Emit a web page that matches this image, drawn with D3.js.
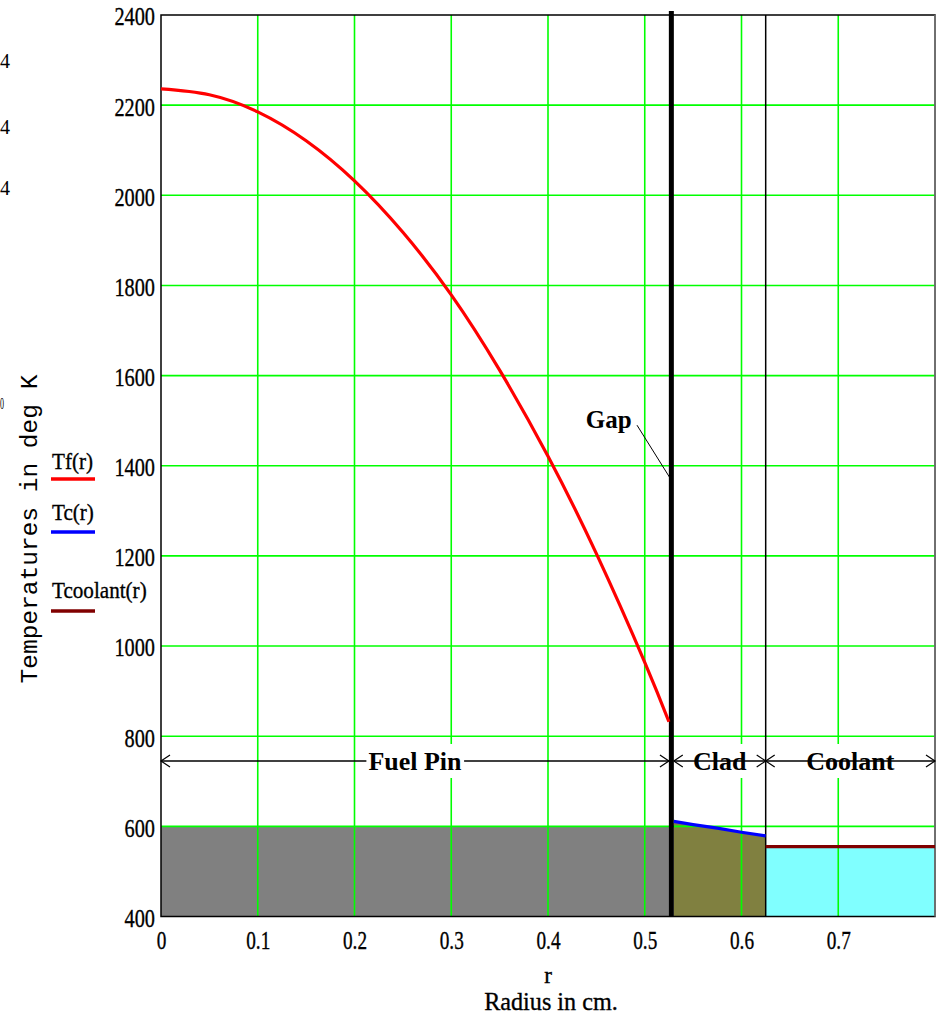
<!DOCTYPE html>
<html>
<head>
<meta charset="utf-8">
<script src="https://cdn.jsdelivr.net/npm/d3@7"></script>
<style>
  html, body { margin: 0; padding: 0; background: #fff; }
  svg { display: block; }
  text { fill: #000; }
  text.heavy { stroke: #000; stroke-width: 0.35px; }
</style>
</head>
<body>
<svg id="chart" width="941" height="1017"></svg>
<script>
// Radial temperature profile across a fuel pin, gap, cladding and coolant.

// Fuel pellet temperature Tf(r)
const fuelR = [0, 0.05, 0.1, 0.15, 0.2, 0.25, 0.3, 0.35, 0.4, 0.45, 0.5, 0.525];
const fuelT = [2236, 2223, 2185, 2121, 2032, 1918, 1779, 1612, 1421, 1205, 964, 832];

// Cladding temperature Tc(r)
const cladR = [0.53, 0.55, 0.575, 0.6, 0.625];
const cladT = [611, 604, 596, 587, 579];

// Coolant temperature Tcoolant(r)
const coolR = [0.625, 0.8];
const coolT = [555, 555];

// Region boundaries (cm) and shaded fuel band top (K)
const fuelRadius = 0.525;
const gapCentre = 0.5275;
const cladInner = 0.53;
const cladOuter = 0.625;
const rMax = 0.8;
const fuelBandTop = 600;

// Axis ticks
const xTicks = [0, 0.1, 0.2, 0.3, 0.4, 0.5, 0.6, 0.7];
const yTicks = [400, 600, 800, 1000, 1200, 1400, 1600, 1800, 2000, 2200, 2400];

// Annotations
const dimLevel = 745;
const regionLabels = ["Fuel Pin", "Clad", "Coolant"];
const gapLabel = { text: "Gap", r: 0.439, T: 1484, fromR: 0.492, fromT: 1490, toR: 0.5255, toT: 1375 };

// Legend
const legendNames = ["Tf(r)", "Tc(r)", "Tcoolant(r)"];
const legendColors = ["#ff0000", "#0000ff", "#800000"];

const SERIF = "'Liberation Serif', 'Times New Roman', serif";
const MONO = "'Liberation Mono', 'Courier New', monospace";

const svg = d3.select("#chart");
const plotLeft = 161, plotRight = 935, plotTop = 15, plotBottom = 916.5;

const x = d3.scaleLinear().domain([0, rMax]).range([plotLeft, plotRight]);
const y = d3.scaleLinear().domain([400, 2400]).range([plotBottom, plotTop]);

// ---- shaded regions ----
svg.append("rect")
  .attr("x", x(0)).attr("y", y(fuelBandTop))
  .attr("width", x(fuelRadius) - x(0)).attr("height", y(400) - y(fuelBandTop))
  .attr("fill", "#808080");

const cladPts = cladR.map((r, i) => [r, cladT[i]]);
svg.append("path")
  .datum(cladPts)
  .attr("d", d3.area().x(d => x(d[0])).y0(y(400)).y1(d => y(d[1])))
  .attr("fill", "#808040");

const coolPts = coolR.map((r, i) => [r, coolT[i]]);
svg.append("path")
  .datum(coolPts)
  .attr("d", d3.area().x(d => x(d[0])).y0(y(400)).y1(d => y(d[1])))
  .attr("fill", "#80ffff");

// ---- grid ----
const grid = svg.append("g").attr("stroke", "#00ff00").attr("stroke-width", 1.6);
xTicks.filter(t => t > 0).forEach(t => {
  grid.append("line").attr("x1", x(t)).attr("x2", x(t)).attr("y1", plotTop).attr("y2", plotBottom);
});
yTicks.filter(t => t > 400 && t < 2400).forEach(t => {
  grid.append("line").attr("x1", plotLeft).attr("x2", plotRight).attr("y1", y(t)).attr("y2", y(t));
});

// ---- frame ----
svg.append("rect")
  .attr("x", plotLeft).attr("y", plotTop).attr("width", plotRight - plotLeft).attr("height", plotBottom - plotTop)
  .attr("fill", "none").attr("stroke", "#000").attr("stroke-width", 1.5);
svg.append("line").attr("x1", plotRight).attr("x2", plotRight).attr("y1", plotTop).attr("y2", plotBottom)
  .attr("stroke", "#808080").attr("stroke-width", 1.5);

// ---- axes ----
function condense(sel, factor) {
  sel.each(function () {
    const len = this.getComputedTextLength();
    d3.select(this).attr("textLength", len * factor).attr("lengthAdjust", "spacingAndGlyphs");
  });
}

const xAxis = svg.append("g")
  .attr("transform", `translate(0,${plotBottom})`)
  .call(d3.axisBottom(x).tickValues(xTicks).tickSize(0).tickPadding(14)
    .tickFormat(d => d === 0 ? "0" : d3.format(".1f")(d)));
xAxis.select(".domain").remove();
xAxis.selectAll("text").classed("heavy", true)
  .style("font-family", SERIF).style("font-size", "26px").call(condense, 0.74);

const yAxis = svg.append("g")
  .attr("transform", `translate(${plotLeft},0)`)
  .call(d3.axisLeft(y).tickValues(yTicks).tickSize(0).tickPadding(6).tickFormat(d3.format("d")));
yAxis.select(".domain").remove();
yAxis.selectAll("text").classed("heavy", true)
  .style("font-family", SERIF).style("font-size", "26px")
  .attr("dy", "0.38em").call(condense, 0.78);

// ---- region boundary lines ----
svg.append("line")
  .attr("x1", x(gapCentre)).attr("x2", x(gapCentre))
  .attr("y1", plotTop - 4).attr("y2", plotBottom)
  .attr("stroke", "#000").attr("stroke-width", 5);
svg.append("line")
  .attr("x1", x(cladOuter)).attr("x2", x(cladOuter))
  .attr("y1", plotTop).attr("y2", plotBottom)
  .attr("stroke", "#000").attr("stroke-width", 1.5);

// ---- temperature curves ----
svg.append("path")
  .datum(fuelR.map((r, i) => [r, fuelT[i]]))
  .attr("d", d3.line().x(d => x(d[0])).y(d => y(d[1])).curve(d3.curveNatural))
  .attr("fill", "none").attr("stroke", "#ff0000").attr("stroke-width", 3.2);
svg.append("path")
  .datum(cladPts)
  .attr("d", d3.line().x(d => x(d[0])).y(d => y(d[1])))
  .attr("fill", "none").attr("stroke", "#0000ff").attr("stroke-width", 3.2);
svg.append("path")
  .datum(coolPts)
  .attr("d", d3.line().x(d => x(d[0])).y(d => y(d[1])))
  .attr("fill", "none").attr("stroke", "#800000").attr("stroke-width", 3.2);

// ---- dimension arrows ----
const dims = [
  { a: 0, b: fuelRadius, label: regionLabels[0] },
  { a: cladInner, b: cladOuter, label: regionLabels[1] },
  { a: cladOuter, b: rMax, label: regionLabels[2] }
];
const dimG = svg.append("g");
const yd = y(dimLevel);
function chevron(g, px, dir) {
  // open arrowhead pointing left (dir=-1) or right (dir=1)
  g.append("path")
    .attr("d", `M${px - dir * 9},${yd - 6}L${px},${yd}L${px - dir * 9},${yd + 6}`)
    .attr("fill", "none").attr("stroke", "#000").attr("stroke-width", 1.2);
}
dims.forEach(d => {
  const x0 = x(d.a), x1 = x(d.b);
  dimG.append("line").attr("x1", x0).attr("x2", x1).attr("y1", yd).attr("y2", yd)
    .attr("stroke", "#000").attr("stroke-width", 1.3);
  chevron(dimG, x0, -1);
  chevron(dimG, x1, 1);
  const t = dimG.append("text")
    .attr("x", (x0 + x1) / 2).attr("y", yd + 9)
    .attr("text-anchor", "middle")
    .style("font-family", SERIF).style("font-size", "26px").style("font-weight", "bold")
    .text(d.label);
  const bb = t.node().getBBox();
  dimG.insert("rect", "text")
    .attr("x", bb.x - 2).attr("y", yd - 17).attr("width", bb.width + 4).attr("height", 34)
    .attr("fill", "#fff");
});
// keep all text above the white label backgrounds
dimG.selectAll("text").raise();

// ---- gap callout ----
svg.append("line")
  .attr("x1", x(gapLabel.fromR)).attr("y1", y(gapLabel.fromT))
  .attr("x2", x(gapLabel.toR)).attr("y2", y(gapLabel.toT))
  .attr("stroke", "#000").attr("stroke-width", 1);
svg.append("text")
  .attr("x", x(gapLabel.r)).attr("y", y(gapLabel.T))
  .style("font-family", SERIF).style("font-size", "25px").style("font-weight", "bold")
  .text(gapLabel.text);

// ---- axis titles ----
svg.append("text")
  .attr("transform", "translate(37,529) rotate(-90)")
  .attr("text-anchor", "middle")
  .style("font-family", MONO).style("font-size", "24.5px")
  .text("Temperatures in deg K");

svg.append("text").classed("heavy", true)
  .attr("x", 548).attr("y", 983).attr("text-anchor", "middle")
  .style("font-family", SERIF).style("font-size", "23px").text("r");
svg.append("text").classed("heavy", true)
  .attr("x", 551).attr("y", 1010).attr("text-anchor", "middle")
  .style("font-family", SERIF).style("font-size", "26px").text("Radius in cm.")
  .call(condense, 0.93);

// ---- legend ----
const legendY = [469, 520, 598];
const lineY = [479, 532, 611];
legendNames.forEach((n, i) => {
  svg.append("text").classed("heavy", true).attr("x", 52).attr("y", legendY[i])
    .style("font-family", SERIF).style("font-size", "24px").text(n)
    .call(condense, 0.88);
  svg.append("line").attr("x1", 51).attr("x2", 95).attr("y1", lineY[i]).attr("y2", lineY[i])
    .attr("stroke", legendColors[i]).attr("stroke-width", 3.5);
});

// ---- fragments of the neighbouring panel's labels at the left edge ----
[68, 134, 195].forEach(v => {
  svg.append("text").attr("x", 0).attr("y", v)
    .style("font-family", SERIF).style("font-size", "20px").text("4");
});
svg.append("text").attr("x", 0).attr("y", 409)
  .style("font-family", SERIF).style("font-size", "16px").text("0")
  .call(condense, 0.5);
</script>
</body>
</html>
